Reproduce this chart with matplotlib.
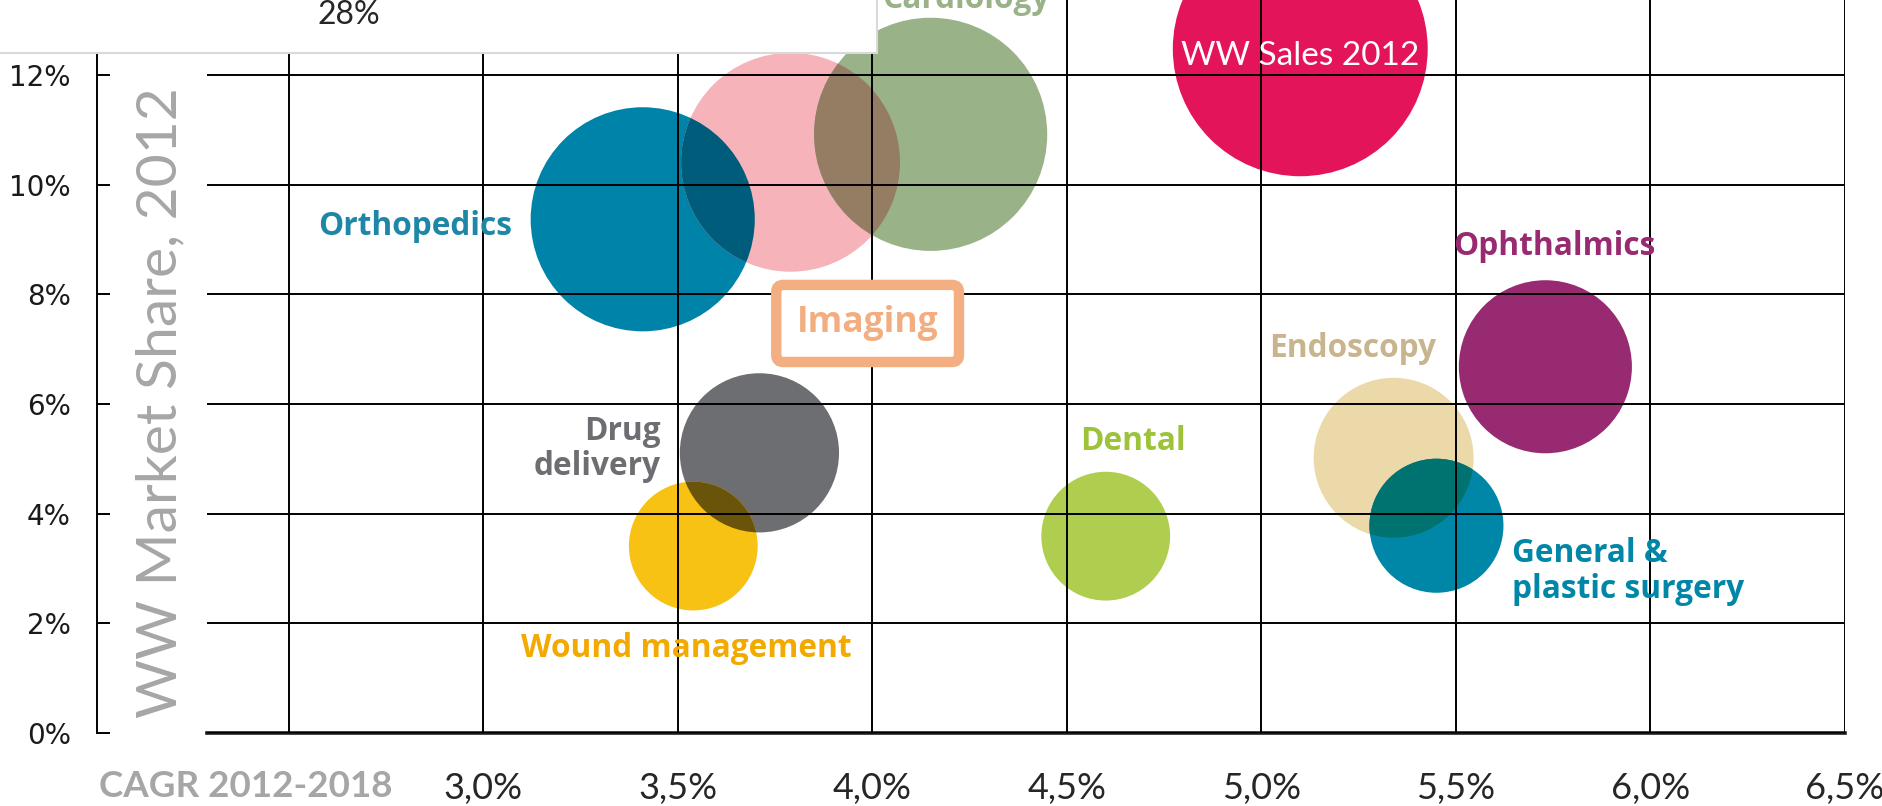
import numpy as np
import matplotlib
matplotlib.use("Agg")
import matplotlib.pyplot as plt
from matplotlib.patches import Circle, Rectangle
from matplotlib.transforms import ScaledTranslation
from matplotlib.colors import to_rgb

# Medtech segments: growth (CAGR 2012-2018, %) vs. world market share 2012 (%)
segments = ['Orthopedics', 'Imaging', 'Cardiology', 'Drug delivery', 'Wound management',
            'Dental', 'WW Sales 2012', 'Endoscopy', 'Ophthalmics', 'General & plastic surgery']
cagr = [3.41, 3.79, 4.15, 3.71, 3.54, 4.60, 5.10, 5.34, 5.73, 5.45]
share = [9.37, 10.41, 10.92, 5.11, 3.41, 3.59, 12.48, 5.02, 6.68, 3.78]
sales = [21.8, 20.8, 23.6, 11.0, 7.2, 7.2, 28.2, 11.1, 13.0, 7.8]

x_ticks = [2.5, 3.0, 3.5, 4.0, 4.5, 5.0, 5.5, 6.0, 6.5]
y_ticks = [0, 2, 4, 6, 8, 10, 12]

colors = ['#0083A9', '#F6B3B9', '#9AB288', '#6D6E71', '#F7C214',
          '#AFCE50', '#E3145A', '#EBD9AA', '#982A72', '#0087A8']

fig = plt.figure(figsize=(18.83, 8.06), dpi=100)
ax = fig.add_axes([0.1099, 0.0906, 0.8699, 0.9094])
ax.set_xlim(2.29, 6.5)
ax.set_ylim(0, 13.37)

# bubbles as circles sized in inches, centred on data coordinates
def bubble(x, y, s, color, z=1):
    tr = fig.dpi_scale_trans + ScaledTranslation(x, y, ax.transData)
    c = Circle((0, 0), 0.24 * np.sqrt(s), transform=tr, facecolor=color,
               edgecolor='none', zorder=z)
    ax.add_patch(c)
    return c

circles = [bubble(x, y, s, c) for x, y, s, c in zip(cagr, share, sales, colors)]

# overlapping areas get a multiplied colour
pts = ax.transData.transform(np.column_stack([cagr, share]))
rad = [0.24 * np.sqrt(s) * fig.dpi for s in sales]
for i in range(len(segments)):
    for j in range(i + 1, len(segments)):
        if np.hypot(*(pts[i] - pts[j])) < rad[i] + rad[j]:
            mix = np.array(to_rgb(colors[i])) * np.array(to_rgb(colors[j]))
            ov = bubble(cagr[j], share[j], sales[j], tuple(mix), z=1.5)
            ov.set_clip_path(circles[i])

ax.set_xlim(2.29, 6.5)
ax.set_ylim(0, 13.37)

# grid on top of bubbles
ax.set_axisbelow(False)
ax.set_xticks(x_ticks)
ax.set_yticks(y_ticks)
ax.grid(True, color='black', linewidth=1.4, zorder=2.5)
for s in ['top', 'right']:
    ax.spines[s].set_visible(False)
ax.spines['bottom'].set_linewidth(2.6)
ax.spines['bottom'].set_color('#1a1a1a')
ax.spines['left'].set_position(('outward', 79))
ax.spines['left'].set_linewidth(1.4)

ax.set_xticklabels([''] + [f'{v:.1f}%'.replace('.', ',') for v in x_ticks[1:]],
                   fontfamily='Lato', fontsize=26, color='#262626')
ax.set_yticklabels([f'{v}%' for v in y_ticks], fontfamily='DejaVu Sans',
                   fontsize=20, color='#1a1a1a')
ax.tick_params(axis='x', length=0, pad=28)
ax.tick_params(axis='y', direction='in', length=9.5, width=1.4, pad=19)

fig.text(0.1306, 0.0236, 'CAGR 2012-2018', fontfamily='Lato', fontweight='bold',
         fontsize=26.5, color='#A6A6A6', ha='center', va='center')
fig.text(0.0855, 0.50, 'WW Market Share, 2012', fontfamily='Lato', fontweight='normal',
         fontsize=41, color='#A6A6A6', rotation=90, ha='center', va='center')

# segment labels
lab = dict(fontfamily='Open Sans', fontweight='bold', fontsize=22.8)
ax.text(2.577, 9.23, 'Orthopedics', color='#1E87A8', ha='left', va='center', **lab)
ax.text(3.457, 5.18, 'Drug\ndelivery', color='#6D6E71', ha='right', va='center',
        linespacing=1.1, **lab)
ax.text(3.096, 1.54, 'Wound management', color='#F2A900', ha='left', va='center', **lab)
ax.text(4.534, 5.32, 'Dental', color='#9DC33B', ha='left', va='center', **lab)
ax.text(5.019, 7.01, 'Endoscopy', color='#C9B58D', ha='left', va='center', **lab)
ax.text(5.494, 8.88, 'Ophthalmics', color='#982A72', ha='left', va='center', **lab)
ax.text(5.645, 2.95, 'General &\nplastic surgery', color='#0087A8', ha='left',
        va='center', linespacing=1.1, **lab)
ax.text(4.241, 13.22, 'Cardiology', color='#9AB288', ha='center', va='baseline',
        clip_on=False, **lab)
ax.text(3.988, 7.47, 'Imaging', color='#F2AE80', ha='center', va='center', zorder=4,
        fontfamily='Open Sans', fontweight='bold', fontsize=25.5,
        bbox=dict(boxstyle='round,pad=0.58,rounding_size=0.2', fc='white',
                  ec='#F3AF82', lw=7.5))
ax.text(5.10, 12.35, 'WW Sales 2012', color='white', ha='center', va='center',
        fontfamily='Lato', fontsize=24, zorder=4)

# white panel at top left
fig.patches.append(Rectangle((-0.01, 0.9342), 0.4757, 0.1, transform=fig.transFigure,
                             facecolor='white', edgecolor='#D9D9D9', lw=1.5, zorder=5))
fig.text(0.1853, 0.981, '28%', fontfamily='Lato', fontsize=23, color='#262626',
         ha='center', va='center', zorder=6)

fig.savefig('out.png', dpi=100)
